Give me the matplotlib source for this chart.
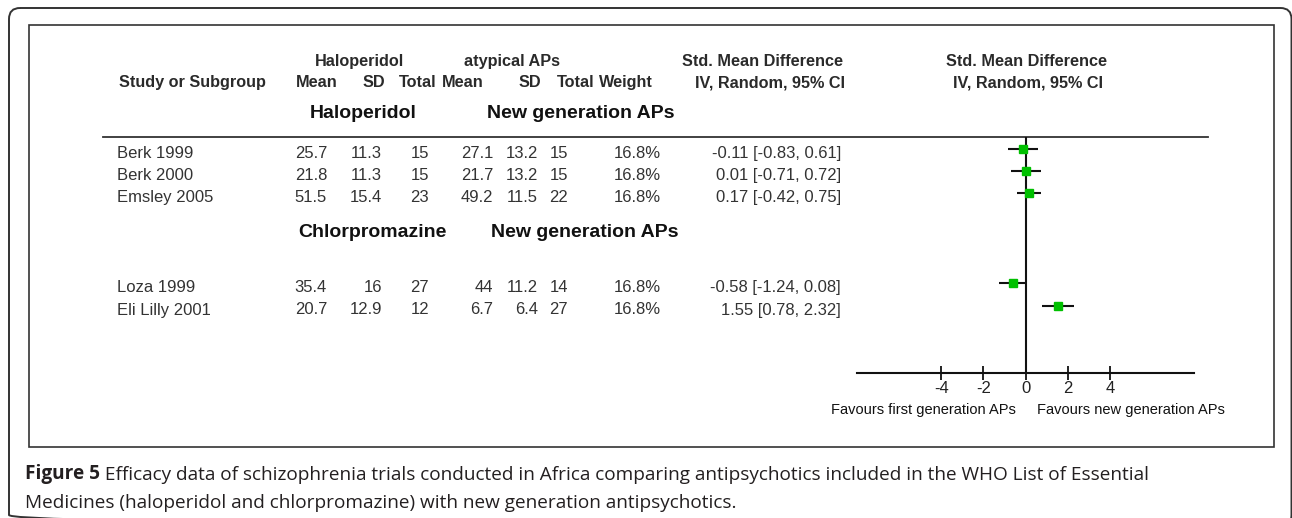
import matplotlib
matplotlib.use("Agg")
import matplotlib.pyplot as plt
from matplotlib.patches import FancyBboxPatch, Rectangle

plt.rcParams['axes.unicode_minus'] = False

# data
studies = ["Berk 1999", "Berk 2000", "Emsley 2005", "Loza 1999", "Eli Lilly 2001"]
mean1 = [25.7, 21.8, 51.5, 35.4, 20.7]
sd1 = [11.3, 11.3, 15.4, 16, 12.9]
n1 = [15, 15, 23, 27, 12]
mean2 = [27.1, 21.7, 49.2, 44, 6.7]
sd2 = [13.2, 13.2, 11.5, 11.2, 6.4]
n2 = [15, 15, 22, 14, 27]
weight = [16.8, 16.8, 16.8, 16.8, 16.8]
smd = [-0.11, 0.01, 0.17, -0.58, 1.55]
ci_lo = [-0.83, -0.71, -0.42, -1.24, 0.78]
ci_hi = [0.61, 0.72, 0.75, 0.08, 2.32]
subgroups = [("Haloperidol", "New generation APs"),
             ("Chlorpromazine", "New generation APs")]
xticks = [-4, -2, 0, 2, 4]
favours = ["Favours first generation APs", "Favours new generation APs"]
caption1 = "Efficacy data of schizophrenia trials conducted in Africa comparing antipsychotics included in the WHO List of Essential"
caption2 = "Medicines (haloperidol and chlorpromazine) with new generation antipsychotics."

# layout (pixels)
W, H = 1292, 518
row_base = [158.3, 180.3, 202.3, 291.7, 314.5]
BODY = 'Liberation Sans'
CAP = 'Open Sans'

fig = plt.figure(figsize=(W / 100, H / 100), dpi=100)
bg = fig.add_axes([0, 0, 1, 1])
bg.set_xlim(0, W)
bg.set_ylim(H, 0)
bg.axis('off')

# outer frame runs off the bottom of the image
bg.add_patch(FancyBboxPatch((9, 8), 1282.5, 518, boxstyle="round,pad=0,rounding_size=11",
                            fill=False, lw=1.4, ec='#333333'))
bg.add_patch(Rectangle((29, 25), 1245, 422, fill=False, lw=1.2, ec='#333333'))
bg.plot([103, 1208], [137, 137], color='#333333', lw=1.3)

def hdr(x, y, s, ha='center'):
    bg.text(x, y, s, ha=ha, va='baseline', fontsize=11.7, fontweight='bold',
            family=BODY, color='#2a2a2a')

def body(x, y, s, ha='right'):
    bg.text(x, y, s, ha=ha, va='baseline', fontsize=12, family=BODY, color='#333333')

# header rows
hdr(359, 65.7, "Haloperidol")
hdr(512, 65.7, "atypical APs")
hdr(762, 65.7, "Std. Mean Difference")
hdr(1027, 65.7, "Std. Mean Difference")
hdr(119, 87.3, "Study or Subgroup", ha='left')
for x, s in zip([317, 374, 417.5, 463, 530, 576, 626],
                ["Mean", "SD", "Total", "Mean", "SD", "Total", "Weight"]):
    hdr(x, 87.3, s)
hdr(770, 87.3, "IV, Random, 95% CI")
hdr(1028, 87.3, "IV, Random, 95% CI")

# subgroup labels
for (a, b), y, xa, xb in zip(subgroups, [118, 236.7], [310, 298], [487, 491]):
    bg.text(xa, y, a, ha='left', va='baseline', fontsize=14, fontweight='bold',
            family=BODY, color='#111111')
    bg.text(xb, y, b, ha='left', va='baseline', fontsize=14, fontweight='bold',
            family=BODY, color='#111111')

# study rows
for i, y in enumerate(row_base):
    body(117, y, studies[i], ha='left')
    body(327, y, f"{mean1[i]:g}")
    body(382, y, f"{sd1[i]:g}")
    body(429, y, f"{n1[i]}")
    body(493, y, f"{mean2[i]:g}")
    body(538, y, f"{sd2[i]:g}")
    body(568, y, f"{n2[i]}")
    body(661, y, f"{weight[i]:.1f}%")
    body(841, y, f"{smd[i]:.2f} [{ci_lo[i]:.2f}, {ci_hi[i]:.2f}]")

# forest plot
fx0, fx1, fy0, fy1 = 857, 1194, 137, 373
fa = fig.add_axes([fx0 / W, 1 - fy1 / H, (fx1 - fx0) / W, (fy1 - fy0) / H])
fa.set_xlim(-8, 8)
fa.set_ylim(fy1, fy0)
fa.patch.set_alpha(0)
for side in ['top', 'left', 'right']:
    fa.spines[side].set_visible(False)
fa.spines['bottom'].set_linewidth(1.5)
fa.spines['bottom'].set_color('#111111')
fa.set_yticks([])
fa.set_xticks(xticks)
fa.set_xticklabels([str(t) for t in xticks], family=BODY, fontsize=12, color='#222222')
fa.tick_params(axis='x', direction='inout', length=9.5, width=1.3, pad=1, color='#111111')
fa.axvline(0, color='#111111', lw=1.5)

mark_y = [y - 9 for y in row_base]
xerr = [[m - l for m, l in zip(smd, ci_lo)], [h - m for m, h in zip(smd, ci_hi)]]
fa.errorbar(smd, mark_y, xerr=xerr, fmt='s', ms=5.3, mfc='#00c000', mec='#00c000',
            ecolor='#111111', elinewidth=1.5, capsize=0, clip_on=False)

bg.text(1016, 414, favours[0], ha='right', va='baseline', fontsize=10.5, family=BODY, color='#111111')
bg.text(1037, 414, favours[1], ha='left', va='baseline', fontsize=10.5, family=BODY, color='#111111')

# caption
t1 = bg.text(25, 479.3, "Figure 5", ha='left', va='baseline', fontsize=13.7, fontweight='bold',
             family=CAP, color='#231f20')
bg.annotate(" " + caption1, xy=(1, 0), xycoords=t1, ha='left', va='bottom', fontsize=13.7,
            family=CAP, color='#231f20')
bg.text(25, 507.7, caption2, ha='left', va='baseline', fontsize=13.7, family=CAP, color='#231f20')

fig.savefig("out.png", dpi=100)
